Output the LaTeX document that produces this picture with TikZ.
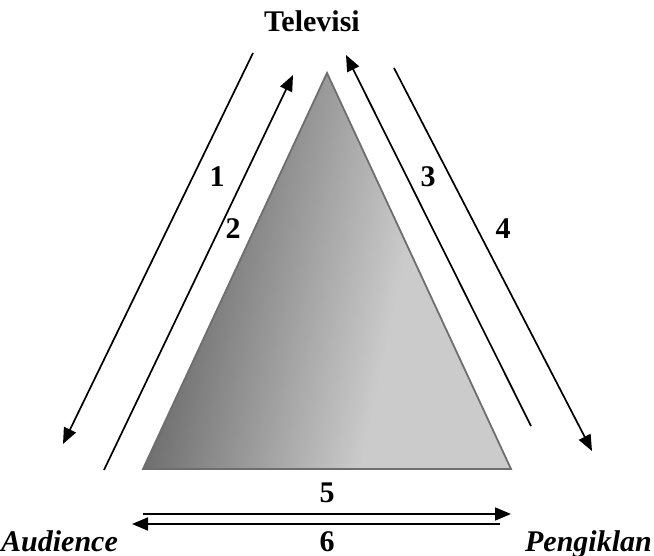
\documentclass[tikz,border=0pt]{standalone}
\usepackage{fontspec}
\setmainfont{Liberation Serif}
\usepackage{tikz}
\usetikzlibrary{arrows.meta, shadings}

\definecolor{tvdark}{HTML}{5E5E5E}
\definecolor{tvlight}{HTML}{CBCBCB}
\definecolor{tvedge}{HTML}{6E6E6E}

\pgfdeclarehorizontalshading{tvfade}{100bp}{color(0bp)=(tvdark); color(26bp)=(tvdark); color(60bp)=(tvlight); color(100bp)=(tvlight)}

\tikzset{
  tvarrow/.style={
    -{Triangle[length=16pt, width=13pt]}, line width=1.7pt, color=black
  },
  tvlabel/.style={
    font=\fontsize{30}{36}\selectfont\bfseries, anchor=base, inner sep=0pt
  },
  tvparty/.style={
    font=\fontsize{30}{36}\selectfont\bfseries\itshape, inner sep=0pt
  },
  tvnum/.style={
    font=\fontsize{30}{36}\selectfont\bfseries, anchor=base, inner sep=0pt
  },
}

\begin{document}
\begin{tikzpicture}[
  x=1pt, y=-1pt,
  tvtriangle/.style={shading=tvfade, shading angle=-12, draw=tvedge, line width=1.8pt, line join=miter},
]
  \useasboundingbox (0,0) rectangle (654,556);

  % === Parties ===
  \node[tvlabel] (tv) at (312, 32) {Televisi};
  \node[tvparty, anchor=base west] (aud) at (1, 551) {Audience};
  \node[tvparty, anchor=base east] (adv) at (652, 551) {Pengiklan};

  % === Triangle ===
  \coordinate (apex) at (327, 73);
  \coordinate (baseL) at (143, 469);
  \coordinate (baseR) at (511, 469);
  \shade[tvtriangle] (apex) -- (baseL) -- (baseR) -- cycle;

  % === Left side: Televisi <-> Audience ===
  \coordinate (a1s) at (253, 53);
  \coordinate (a1e) at (63, 444);
  \coordinate (a2s) at (104, 470);
  \coordinate (a2e) at (293, 75);
  \draw[tvarrow] (a1s) -- (a1e);
  \draw[tvarrow] (a2s) -- (a2e);
  \node[tvnum] (n1) at (217, 187) {1};
  \node[tvnum] (n2) at (233, 239) {2};

  % === Right side: Televisi <-> Pengiklan ===
  \coordinate (a3s) at (531, 426);
  \coordinate (a3e) at (346, 55);
  \coordinate (a4s) at (394, 68);
  \coordinate (a4e) at (592, 451);
  \draw[tvarrow] (a3s) -- (a3e);
  \draw[tvarrow] (a4s) -- (a4e);
  \node[tvnum] (n3) at (428, 187) {3};
  \node[tvnum] (n4) at (503, 239) {4};

  % === Bottom: Audience <-> Pengiklan ===
  \coordinate (a5s) at (143, 514);
  \coordinate (a5e) at (511, 514);
  \coordinate (a6s) at (500, 524);
  \coordinate (a6e) at (132, 524);
  \draw[tvarrow] (a5s) -- (a5e);
  \draw[tvarrow] (a6s) -- (a6e);
  \node[tvnum] (n5) at (327, 502) {5};
  \node[tvnum] (n6) at (327, 551) {6};

\end{tikzpicture}
\end{document}
